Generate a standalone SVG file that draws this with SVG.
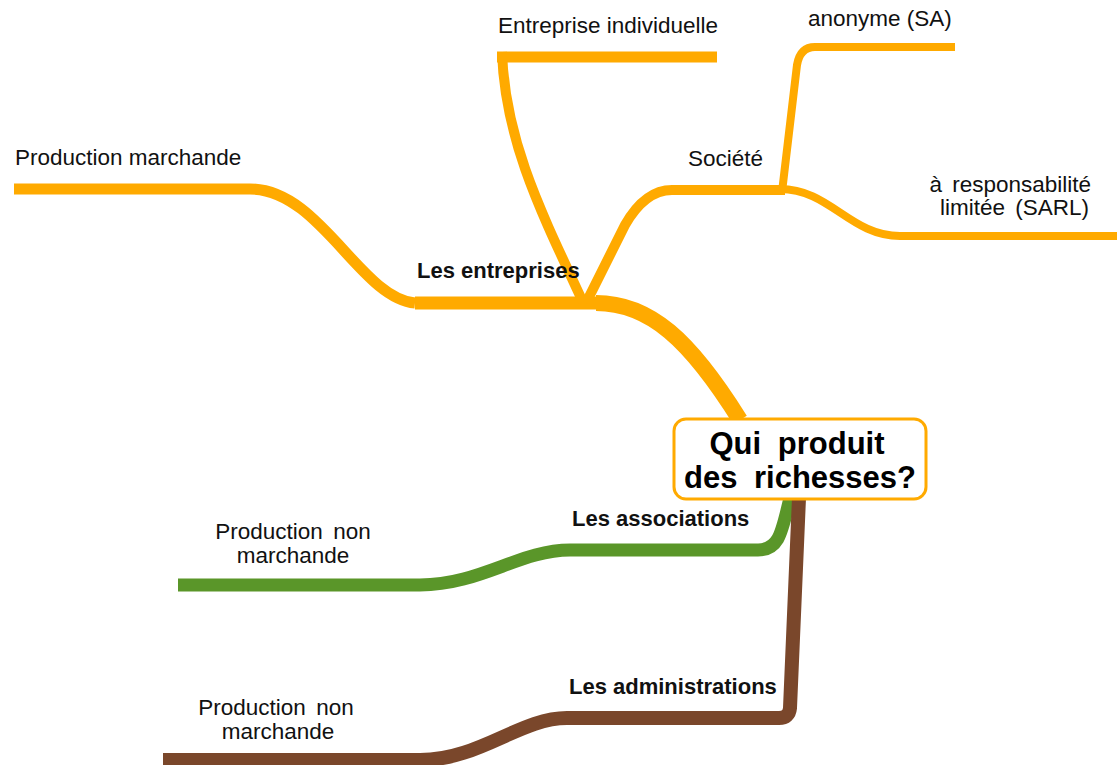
<svg xmlns="http://www.w3.org/2000/svg" width="1117" height="765" viewBox="0 0 1117 765">
<style>
.c{fill:none;stroke-linecap:butt;stroke-linejoin:round}
.o{stroke:#FFAA00}
.g{stroke:#5A9629}
.b{stroke:#7A472B}
.t{font-family:"Liberation Sans",Arial,sans-serif;font-size:22.5px;fill:#111}
.tb{font-family:"Liberation Sans",Arial,sans-serif;font-size:22px;font-weight:bold;fill:#111}
.tc{font-family:"Liberation Sans",Arial,sans-serif;font-size:31px;font-weight:bold;fill:#000;word-spacing:8px}
</style>
<rect width="1117" height="765" fill="#fff"/>
<g id="connectors">
<path class="c o" stroke-width="16" d="M 596 303 C 650 303 690 340 740 420"/>
<path class="c o" stroke-width="13" d="M 415 303 L 600 303"/>
<path class="c o" stroke-width="11" d="M 14 189 L 250 189 C 320 189 360 298 415 303"/>
<path class="c o" stroke-width="10" d="M 502 52 C 505 140 540 210 583 302"/>
<path class="c o" stroke-width="11" d="M 497 57 L 717 57"/>
<path class="c o" stroke-width="10" d="M 586 303 L 625 225 Q 645 190 672 190 L 785 190"/>
<path class="c o" stroke-width="8" d="M 782 192 L 797 65 Q 800 47 815 47 L 955 47"/>
<path class="c o" stroke-width="8" d="M 780 189 C 830 189 850 236 900 236 L 1117 236"/>
<path class="c g" stroke-width="13" d="M 790 498 C 782 530 780 550 758 550 L 570 550 C 520 550 480 585 420 585 L 178 585"/>
<path class="c b" stroke-width="14" d="M 799 498 L 790 708 Q 789 718 779 718 L 567 718 C 520 718 480 760 420 760 L 163 760"/>
</g>
<g id="center">
<rect x="674" y="419" width="252" height="80" rx="12" fill="#fff" stroke="#FFAA00" stroke-width="3"/>
<text class="tc" x="797" y="454" text-anchor="middle">Qui produit</text>
<text class="tc" x="800" y="488" text-anchor="middle">des richesses?</text>
</g>
<g id="entreprises"><text class="tb" x="417" y="278">Les entreprises</text></g>
<g id="prod-marchande"><text class="t" x="15" y="165">Production marchande</text></g>
<g id="entreprise-individuelle"><text class="t" x="498" y="33">Entreprise individuelle</text></g>
<g id="societe"><text class="t" x="688" y="166">Société</text></g>
<g id="sa"><text class="t" x="808" y="26">anonyme (SA)</text></g>
<g id="sarl"><text class="t" x="1091" y="192" text-anchor="end" style="word-spacing:4px">à responsabilité</text><text class="t" x="1089" y="215" text-anchor="end" style="word-spacing:4px">limitée (SARL)</text></g>
<g id="associations"><text class="tb" x="572" y="526">Les associations</text></g>
<g id="assoc-prod"><text class="t" x="293" y="539" text-anchor="middle" style="word-spacing:4px">Production non</text><text class="t" x="293" y="563" text-anchor="middle">marchande</text></g>
<g id="administrations"><text class="tb" x="569" y="694">Les administrations</text></g>
<g id="admin-prod"><text class="t" x="276" y="715" text-anchor="middle" style="word-spacing:4px">Production non</text><text class="t" x="278" y="739" text-anchor="middle">marchande</text></g>
</svg>
